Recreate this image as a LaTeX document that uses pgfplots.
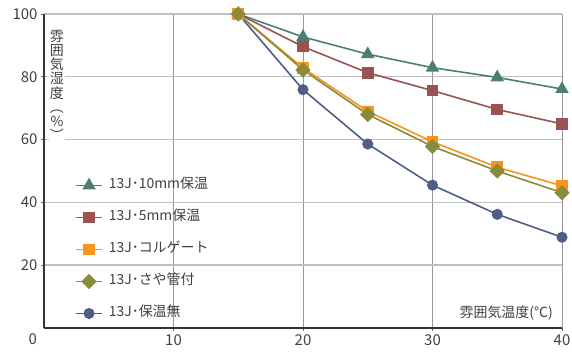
\documentclass[border=0pt]{standalone}
\usepackage{pgfplots}
\pgfplotsset{compat=1.18}
\usepackage{fontspec}
\setmainfont{Noto Sans CJK JP}
\definecolor{cTeal}{HTML}{4B7F73}
\definecolor{cRed}{HTML}{985352}
\definecolor{cOrange}{HTML}{F7941E}
\definecolor{cOlive}{HTML}{8A8A3C}
\definecolor{cBlue}{HTML}{4E5E87}
\definecolor{cText}{HTML}{404040}
\begin{document}
\begin{tikzpicture}
\useasboundingbox (-44bp,-26bp) rectangle (528bp,328bp);
\begin{axis}[
  scale only axis, width=518bp, height=314bp,
  xmin=0, xmax=40, ymin=0, ymax=100,
  xtick={10,20,30,40}, ytick={20,40,60,80,100},
  grid=major,
  major x grid style={draw=black!40, line width=0.9bp},
  major y grid style={draw=black!25, line width=1.4bp},
  axis x line*=bottom, axis y line*=left,
  axis line style={-},
  x axis line style={draw=black!80, line width=1.8bp},
  y axis line style={draw=black!80, line width=1.3bp},
  tick align=outside, major tick length=3bp,
  tick style={draw=black!60, line width=0.8bp},
  ticklabel style={font=\fontsize{15}{15}\selectfont, text=cText},
  /pgf/number format/assume math mode=true,
  clip=false,
  legend style={at={(axis cs:2.4,48.0)}, anchor=north west, draw=none, fill=none,
    inner sep=0pt, font=\fontsize{14}{14}\selectfont, text=cText,
    row sep=16bp, column sep=5bp, nodes={inner sep=1bp, text height=10.5bp, text depth=3.5bp}},
  legend cell align=left,
  legend image code/.code={\draw[mark repeat=2,mark phase=2] plot coordinates {(0bp,0bp) (13bp,0bp) (26bp,0bp)};},
  every axis plot/.append style={line width=1.6bp},
]
\addplot[cBlue, mark=*, mark size=4.7bp, forget plot] coordinates {(15,100)(20,75.9)(25,58.6)(30,45.5)(35,36.2)(40,28.9)};
\addplot[cTeal, mark=triangle*, mark size=6.2bp, forget plot] coordinates {(15,100)(20,92.7)(25,87.2)(30,82.9)(35,79.8)(40,76.1)};
\addplot[cRed, mark=square*, mark size=5bp, forget plot] coordinates {(15,100)(20,89.6)(25,81.3)(30,75.6)(35,69.6)(40,65.0)};
\addplot[cOrange, mark=square*, mark size=5bp, forget plot] coordinates {(15,100)(20,82.8)(25,69.0)(30,59.3)(35,51.2)(40,45.3)};
\addplot[cOlive, mark=square*, mark size=4.6bp, mark options={rotate=45}, forget plot] coordinates {(15,100)(20,82.2)(25,68.0)(30,57.8)(35,50.0)(40,43.1)};
\addlegendimage{cTeal, mark=triangle*, mark size=6.2bp, line width=1.6bp}
\addlegendentry{13J･10mm保温}
\addlegendimage{cRed, mark=square*, mark size=5bp, line width=1.6bp}
\addlegendentry{13J･5mm保温}
\addlegendimage{cOrange, mark=square*, mark size=5bp, line width=1.6bp}
\addlegendentry{13J･コルゲート}
\addlegendimage{cOlive, mark=square*, mark size=4.6bp, mark options={rotate=45}, line width=1.6bp}
\addlegendentry{13J･さや管付}
\addlegendimage{cBlue, mark=*, mark size=4.7bp, line width=1.6bp}
\addlegendentry{13J･保温無}
\node[anchor=north, fill=white, inner sep=1bp, align=center, text=cText,
  font=\fontsize{14}{14.2}\selectfont] at (axis cs:1.0,95.2) {雰\\囲\\気\\湿\\度\\︵\\\%\\︶};
\node[anchor=east, text=cText, inner sep=0pt, font=\fontsize{14}{14}\selectfont] at (axis cs:39.3,4.8) {雰囲気温度(℃)};
\node[anchor=north east, text=cText, inner sep=0pt, font=\fontsize{15}{15}\selectfont] at (axis cs:0,0) [xshift=-7bp, yshift=-5bp] {0};
\end{axis}
\end{tikzpicture}
\end{document}
